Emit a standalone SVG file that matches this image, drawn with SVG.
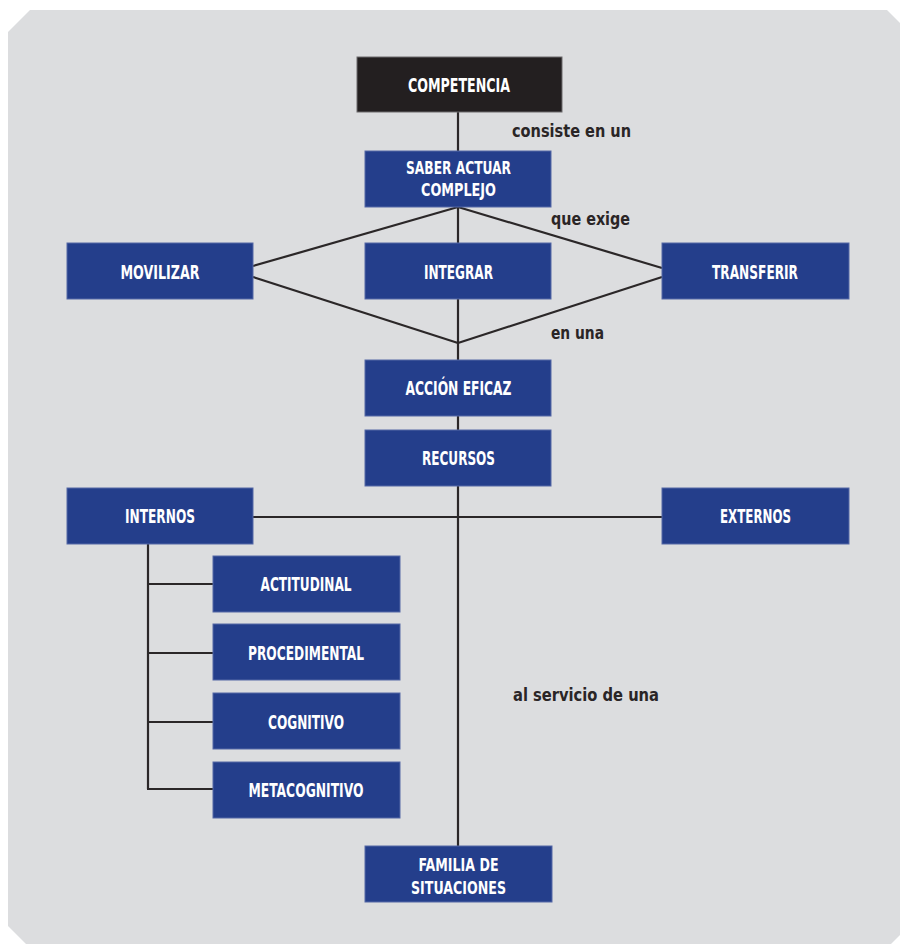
<svg xmlns="http://www.w3.org/2000/svg" width="900" height="944" viewBox="0 0 900 944">
  <style>
    .box { fill: #243e8b; stroke: #5468a6; stroke-width: 1; }
    .dark { fill: #231f20; stroke: #6d6b6c; stroke-width: 1; }
    .bt { font-family: "Liberation Sans Narrow", "DejaVu Sans Condensed", "Liberation Sans", sans-serif; font-weight: bold; font-size: 20px; fill: #ffffff; text-anchor: middle; }
    .bt2 { font-size: 18.5px; }
    .lbl { font-family: "Liberation Sans Narrow", "DejaVu Sans Condensed", "Liberation Sans", sans-serif; font-weight: bold; font-size: 18px; fill: #2a2526; }
    .conn line { stroke: #2b2728; stroke-width: 2.2; fill: none; }
  </style>

  <polygon id="panel" points="30,10 887,10 909,32 909,926 887,948 30,948 8,926 8,32" fill="#dcdddf"/>

  <g id="connectors" class="conn">
    <line x1="458" y1="112" x2="458" y2="151"/>
    <line x1="458" y1="207" x2="458" y2="360"/>
    <line x1="458" y1="207" x2="253" y2="266"/>
    <line x1="458" y1="207" x2="662" y2="268"/>
    <line x1="253" y1="277" x2="458" y2="343"/>
    <line x1="662" y1="277" x2="458" y2="343"/>
    <line x1="458" y1="416" x2="458" y2="430"/>
    <line x1="458" y1="486" x2="458" y2="846"/>
    <line x1="253" y1="517" x2="662" y2="517"/>
    <line x1="148" y1="544" x2="148" y2="789"/>
    <line x1="147" y1="584" x2="213" y2="584"/>
    <line x1="147" y1="653" x2="213" y2="653"/>
    <line x1="147" y1="722" x2="213" y2="722"/>
    <line x1="147" y1="789" x2="213" y2="789"/>
  </g>

  <g id="labels">
    <text class="lbl" x="512" y="137" textLength="119" lengthAdjust="spacingAndGlyphs">consiste en un</text>
    <text class="lbl" x="551" y="225" textLength="79" lengthAdjust="spacingAndGlyphs">que exige</text>
    <text class="lbl" x="551" y="339" textLength="53" lengthAdjust="spacingAndGlyphs">en una</text>
    <text class="lbl" x="513" y="701" textLength="146" lengthAdjust="spacingAndGlyphs">al servicio de una</text>
  </g>

  <g id="competencia">
    <rect class="dark" x="357" y="57" width="205" height="55"/>
    <text class="bt" x="459" y="92" textLength="102" lengthAdjust="spacingAndGlyphs">COMPETENCIA</text>
  </g>
  <g id="saber">
    <rect class="box" x="365" y="151" width="186" height="56"/>
    <text class="bt bt2" x="458.5" y="174" textLength="105" lengthAdjust="spacingAndGlyphs">SABER ACTUAR</text>
    <text class="bt bt2" x="458.5" y="196" textLength="75" lengthAdjust="spacingAndGlyphs">COMPLEJO</text>
  </g>
  <g id="movilizar">
    <rect class="box" x="67" y="243" width="186" height="56"/>
    <text class="bt" x="160" y="279" textLength="79" lengthAdjust="spacingAndGlyphs">MOVILIZAR</text>
  </g>
  <g id="integrar">
    <rect class="box" x="365" y="243" width="186" height="56"/>
    <text class="bt" x="458.5" y="279" textLength="69" lengthAdjust="spacingAndGlyphs">INTEGRAR</text>
  </g>
  <g id="transferir">
    <rect class="box" x="662" y="243" width="187" height="56"/>
    <text class="bt" x="755" y="279" textLength="86" lengthAdjust="spacingAndGlyphs">TRANSFERIR</text>
  </g>
  <g id="accion">
    <rect class="box" x="365" y="360" width="186" height="56"/>
    <text class="bt" x="458.5" y="395" textLength="106" lengthAdjust="spacingAndGlyphs">ACCIÓN EFICAZ</text>
  </g>
  <g id="recursos">
    <rect class="box" x="365" y="430" width="186" height="56"/>
    <text class="bt" x="458.5" y="465" textLength="73" lengthAdjust="spacingAndGlyphs">RECURSOS</text>
  </g>
  <g id="internos">
    <rect class="box" x="67" y="488" width="186" height="56"/>
    <text class="bt" x="160" y="523" textLength="70" lengthAdjust="spacingAndGlyphs">INTERNOS</text>
  </g>
  <g id="externos">
    <rect class="box" x="662" y="488" width="187" height="56"/>
    <text class="bt" x="755.5" y="523" textLength="71" lengthAdjust="spacingAndGlyphs">EXTERNOS</text>
  </g>
  <g id="actitudinal">
    <rect class="box" x="213" y="556" width="187" height="56"/>
    <text class="bt" x="306" y="591" textLength="91" lengthAdjust="spacingAndGlyphs">ACTITUDINAL</text>
  </g>
  <g id="procedimental">
    <rect class="box" x="213" y="624" width="187" height="56"/>
    <text class="bt" x="306" y="660" textLength="116" lengthAdjust="spacingAndGlyphs">PROCEDIMENTAL</text>
  </g>
  <g id="cognitivo">
    <rect class="box" x="213" y="693" width="187" height="56"/>
    <text class="bt" x="306" y="729" textLength="76" lengthAdjust="spacingAndGlyphs">COGNITIVO</text>
  </g>
  <g id="metacognitivo">
    <rect class="box" x="213" y="762" width="187" height="56"/>
    <text class="bt" x="306" y="797" textLength="115" lengthAdjust="spacingAndGlyphs">METACOGNITIVO</text>
  </g>
  <g id="familia">
    <rect class="box" x="365" y="846" width="187" height="56"/>
    <text class="bt bt2" x="458.5" y="871" textLength="80" lengthAdjust="spacingAndGlyphs">FAMILIA DE</text>
    <text class="bt bt2" x="458.5" y="894" textLength="95" lengthAdjust="spacingAndGlyphs">SITUACIONES</text>
  </g>
</svg>
